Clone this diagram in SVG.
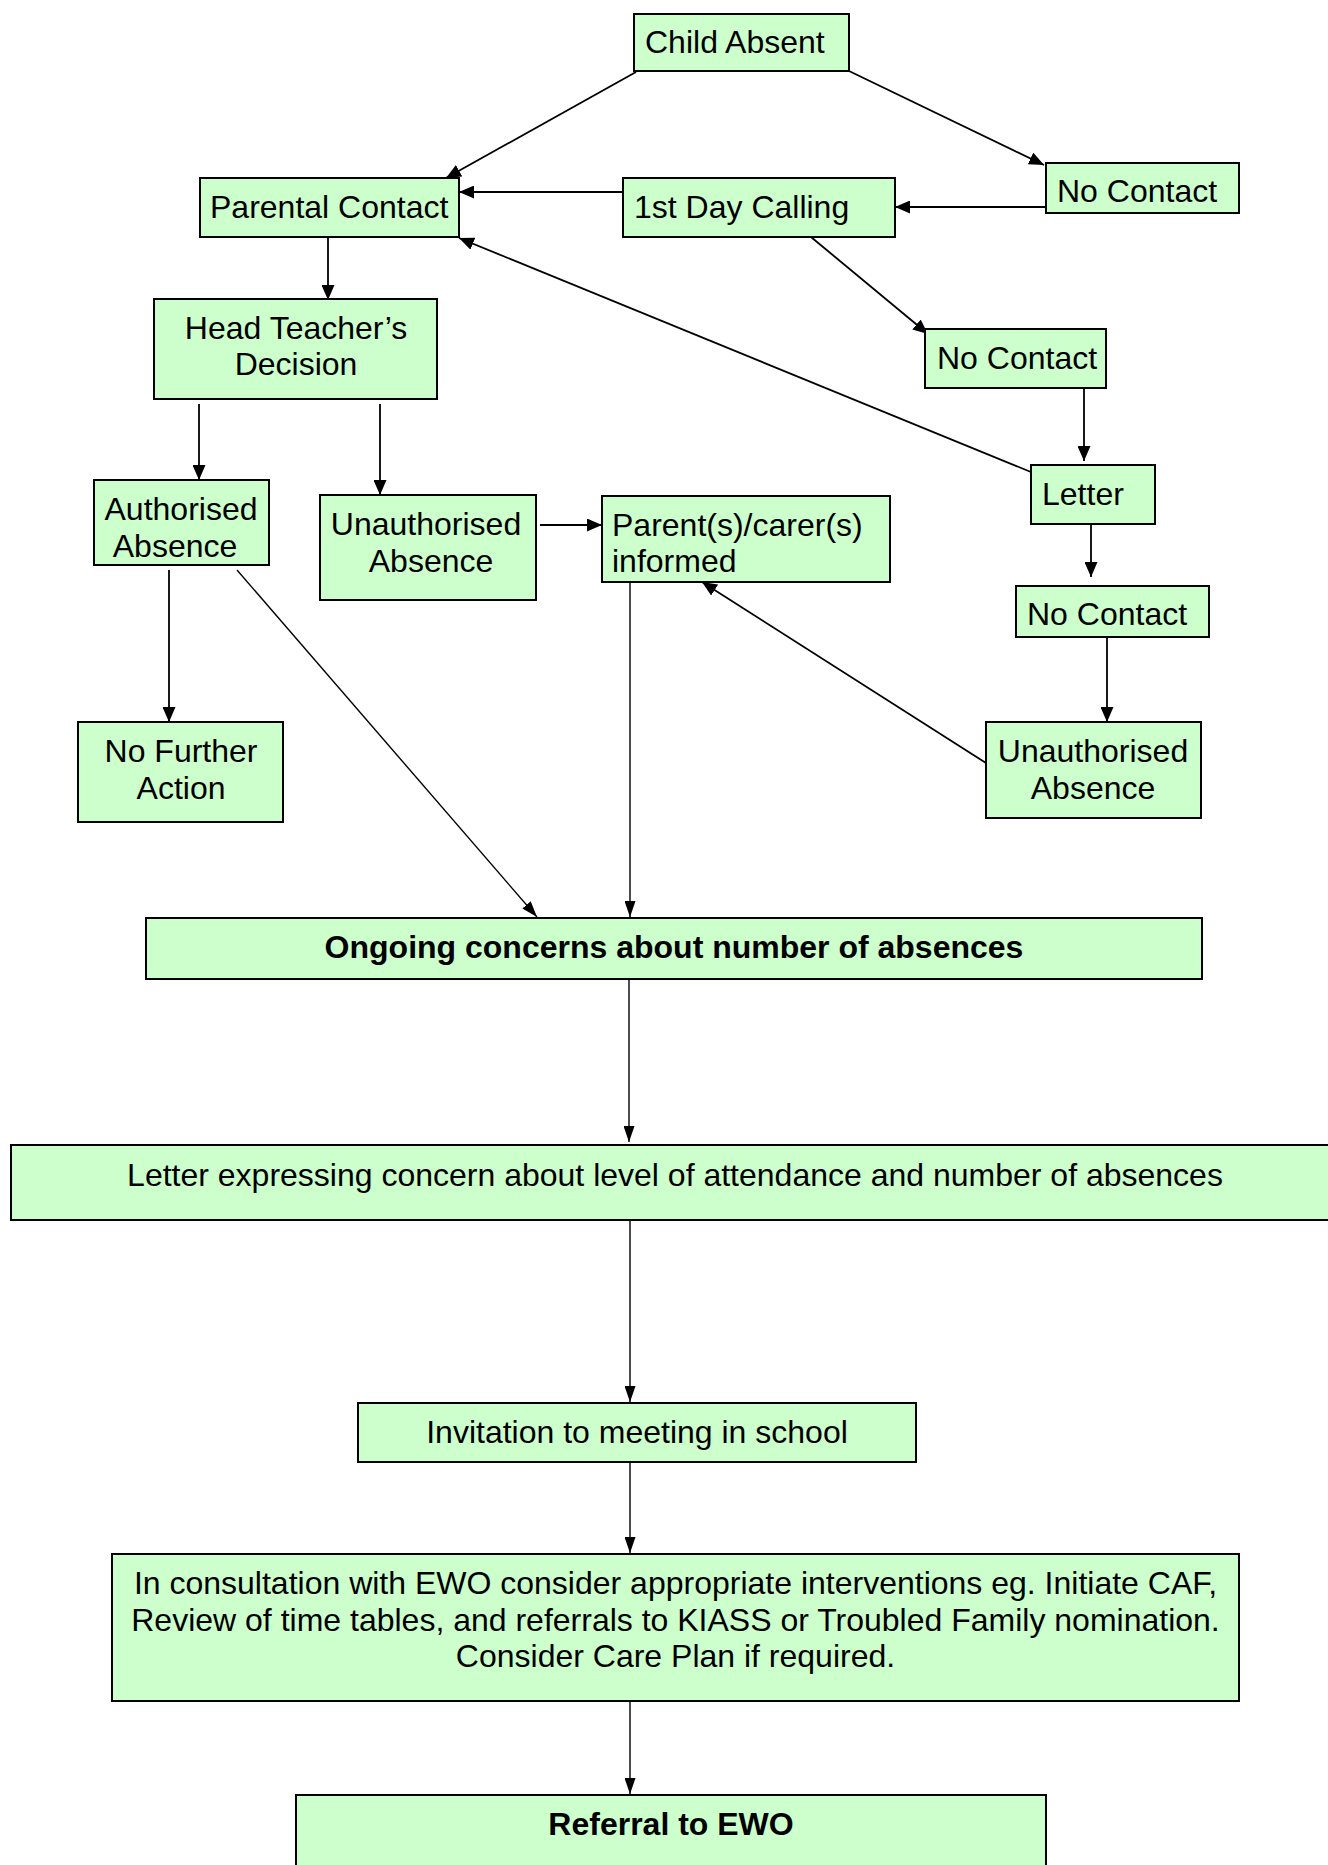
<svg xmlns="http://www.w3.org/2000/svg" width="1328" height="1865" viewBox="0 0 1328 1865">
<style>
.box{fill:#CCFFCC;stroke:#000;stroke-width:2}
.t{font-family:"Liberation Sans",Arial,sans-serif;font-size:32px;fill:#000}
.c{text-anchor:middle}
.b{font-weight:bold}
.ln{stroke:#000;stroke-width:1.8;fill:none;marker-end:url(#ah)}
.ln2{stroke:#000;stroke-width:1.4;fill:none;marker-end:url(#ah2)}
</style>
<defs>
<marker id="ah" viewBox="0 0 15 13" refX="15" refY="6.5" markerWidth="15" markerHeight="13" markerUnits="userSpaceOnUse" orient="auto"><path d="M0,0 L15,6.5 L0,13 z" fill="#000"/></marker>
<marker id="ah2" viewBox="0 0 16 11" refX="16" refY="5.5" markerWidth="16" markerHeight="11" markerUnits="userSpaceOnUse" orient="auto"><path d="M0,0 L16,5.5 L0,11 z" fill="#000"/></marker>
</defs>
<rect width="1328" height="1865" fill="#fff"/>
<g id="connectors">
<line class="ln" x1="636" y1="72" x2="446" y2="178"/>
<line class="ln" x1="849" y1="71" x2="1044" y2="165"/>
<line class="ln" x1="1045" y1="207" x2="895" y2="207"/>
<line class="ln" x1="623" y1="192" x2="459" y2="192"/>
<line class="ln" x1="811" y1="237" x2="928" y2="334"/>
<line class="ln" x1="1084" y1="388" x2="1084" y2="461"/>
<line class="ln" x1="1031" y1="472" x2="459" y2="238"/>
<line class="ln" x1="1091" y1="524" x2="1091" y2="577"/>
<line class="ln" x1="1107" y1="631" x2="1107" y2="722"/>
<line class="ln" x1="986" y1="763" x2="702" y2="582"/>
<line class="ln" x1="328" y1="237" x2="328" y2="300"/>
<line class="ln" x1="199" y1="404" x2="199" y2="480"/>
<line class="ln" x1="380" y1="404" x2="380" y2="495"/>
<line class="ln" x1="540" y1="525" x2="602" y2="525"/>
<line class="ln" x1="169" y1="570" x2="169" y2="722"/>
<line class="ln2" x1="237" y1="570" x2="537" y2="917"/>
<line class="ln2" x1="630" y1="582" x2="630" y2="917"/>
<line class="ln2" x1="629" y1="979" x2="629" y2="1142"/>
<line class="ln2" x1="630" y1="1220" x2="630" y2="1402"/>
<line class="ln2" x1="630" y1="1462" x2="630" y2="1553"/>
<line class="ln2" x1="630" y1="1701" x2="630" y2="1794"/>
</g>
<g id="child-absent"><rect class="box" x="634" y="14" width="215" height="57"/><text class="t" x="645" y="53">Child Absent</text></g>
<g id="parental-contact"><rect class="box" x="200" y="178" width="259" height="59"/><text class="t" x="210" y="218">Parental Contact</text></g>
<g id="first-day-calling"><rect class="box" x="623" y="178" width="272" height="59"/><text class="t" x="634" y="218">1st Day Calling</text></g>
<g id="no-contact-1"><rect class="box" x="1046" y="163" width="193" height="50"/><text class="t" x="1057" y="202">No Contact</text></g>
<g id="no-contact-2"><rect class="box" x="925" y="329" width="181" height="59"/><text class="t" x="937" y="369">No Contact</text></g>
<g id="letter"><rect class="box" x="1031" y="465" width="124" height="59"/><text class="t" x="1042" y="505">Letter</text></g>
<g id="no-contact-3"><rect class="box" x="1016" y="586" width="193" height="51"/><text class="t" x="1027" y="625">No Contact</text></g>
<g id="head-teacher"><rect class="box" x="154" y="299" width="283" height="100"/><text class="t c" x="296" y="339">Head Teacher’s</text><text class="t c" x="296" y="375">Decision</text></g>
<g id="authorised-absence"><rect class="box" x="94" y="480" width="175" height="85"/><text class="t c" x="181" y="520">Authorised</text><text class="t c" x="175" y="557">Absence</text></g>
<g id="unauthorised-absence-1"><rect class="box" x="320" y="495" width="216" height="105"/><text class="t c" x="426" y="535">Unauthorised</text><text class="t c" x="431" y="572">Absence</text></g>
<g id="parents-informed"><rect class="box" x="602" y="496" width="288" height="86"/><text class="t" x="612" y="536">Parent(s)/carer(s)</text><text class="t" x="612" y="572">informed</text></g>
<g id="unauthorised-absence-2"><rect class="box" x="986" y="722" width="215" height="96"/><text class="t c" x="1093" y="762">Unauthorised</text><text class="t c" x="1093" y="799">Absence</text></g>
<g id="no-further-action"><rect class="box" x="78" y="722" width="205" height="100"/><text class="t c" x="181" y="762">No Further</text><text class="t c" x="181" y="799">Action</text></g>
<g id="ongoing"><rect class="box" x="146" y="918" width="1056" height="61"/><text class="t c b" x="674" y="958">Ongoing concerns about number of absences</text></g>
<g id="letter-concern"><rect class="box" x="11" y="1145" width="1330" height="75"/><text class="t c" x="675" y="1186">Letter expressing concern about level of attendance and number of absences</text></g>
<g id="invitation"><rect class="box" x="358" y="1403" width="558" height="59"/><text class="t c" x="637" y="1443">Invitation to meeting in school</text></g>
<g id="consultation"><rect class="box" x="112" y="1554" width="1127" height="147"/><text class="t c" x="675.5" y="1594">In consultation with EWO consider appropriate interventions eg. Initiate CAF,</text><text class="t c" x="675.5" y="1631">Review of time tables, and referrals to KIASS or Troubled Family nomination.</text><text class="t c" x="675.5" y="1667">Consider Care Plan if required.</text></g>
<g id="referral"><rect class="box" x="296" y="1795" width="750" height="90"/><text class="t c b" x="671" y="1835">Referral to EWO</text></g>
</svg>
